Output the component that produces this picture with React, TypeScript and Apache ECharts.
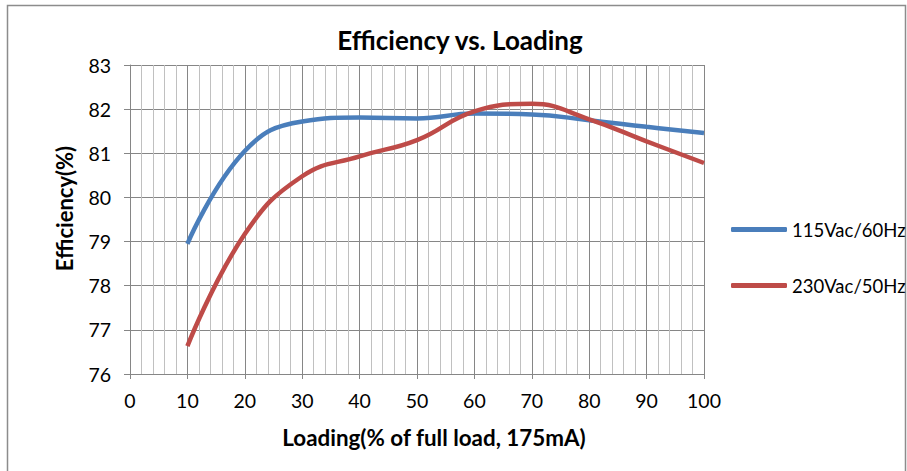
import React, { useEffect, useRef } from "react";
import * as echarts from "echarts";

const loading = [10, 20, 30, 40, 50, 60, 70, 80, 90, 100];
const eff115 = [78.95, 81.05, 81.72, 81.81, 81.79, 81.9, 81.88, 81.75, 81.6, 81.46];
const eff230 = [76.63, 79.17, 80.48, 80.93, 81.3, 81.95, 82.12, 81.77, 81.27, 80.78];
const seriesNames = ["115Vac/60Hz", "230Vac/50Hz"];
const colors = ["#4a7ebb", "#be4b48"];

const FONT = "Lato, 'Open Sans', sans-serif";

export default function App() {
  const ref = useRef<HTMLDivElement>(null);
  useEffect(() => {
    document.body.style.margin = "0";
    const chart = echarts.init(ref.current!, null, { renderer: "svg" });
    const toPairs = (ys: number[]) => loading.map((x, i) => [x, ys[i]]);
    chart.setOption({
      animation: false,
      backgroundColor: "#ffffff",
      textStyle: { fontFamily: FONT },
      title: {
        text: "Efficiency vs. Loading",
        left: 455,
        top: 22,
        textAlign: "center",
        textStyle: { fontFamily: FONT, fontSize: 26, fontWeight: "bold", color: "#000" },
      },
      graphic: [
        {
          type: "rect",
          shape: { x: 7.5, y: 5.5, width: 898, height: 480 },
          style: { fill: "none", stroke: "#8c8c8c", lineWidth: 1.5 },
          silent: true,
          z: -1,
        },
      ],
      legend: {
        orient: "vertical",
        left: 731,
        top: 220,
        padding: 0,
        itemGap: 37,
        icon: "roundRect",
        itemWidth: 56,
        itemHeight: 5,
        textStyle: { fontFamily: FONT, fontSize: 18.5, color: "#000" },
        data: seriesNames,
      },
      grid: { left: 130, right: 203, top: 65, bottom: 97, containLabel: false },
      xAxis: {
        type: "value",
        min: 0,
        max: 100,
        interval: 10,
        name: "Loading(% of full load, 175mA)",
        nameLocation: "middle",
        nameGap: 52,
        nameTextStyle: { fontFamily: FONT, fontSize: 22.4, fontWeight: "bold", color: "#000", padding: [0, 0, 0, 34] },
        axisLine: { show: true, lineStyle: { color: "#868686", width: 1 } },
        axisTick: { show: true, length: 5, lineStyle: { color: "#868686" } },
        axisLabel: { fontFamily: FONT, fontSize: 19.5, color: "#000", margin: 16 },
        splitLine: { show: true, lineStyle: { color: "#868686", width: 1 } },
        minorTick: { show: false, splitNumber: 5 },
        minorSplitLine: { show: true, lineStyle: { color: "#c0c0c0", width: 1 } },
      },
      yAxis: {
        type: "value",
        min: 76,
        max: 83,
        interval: 1,
        name: "Efficiency(%)",
        nameLocation: "middle",
        nameGap: 55,
        nameRotate: 90,
        nameTextStyle: { fontFamily: FONT, fontSize: 22, fontWeight: "bold", color: "#000", padding: [0, 0, 0, 22] },
        axisLine: { show: true, lineStyle: { color: "#868686", width: 1 } },
        axisTick: { show: true, inside: false, length: 6, lineStyle: { color: "#868686" } },
        axisLabel: { fontFamily: FONT, fontSize: 19.5, color: "#000", margin: 19 },
        splitLine: { show: true, lineStyle: { color: "#868686", width: 1 } },
      },
      series: [
        {
          name: seriesNames[0],
          type: "line",
          data: toPairs(eff115),
          smooth: 0.45,
          symbol: "none",
          lineStyle: { color: colors[0], width: 4.5 },
          itemStyle: { color: colors[0] },
        },
        {
          name: seriesNames[1],
          type: "line",
          data: toPairs(eff230),
          smooth: 0.45,
          symbol: "none",
          lineStyle: { color: colors[1], width: 4.5 },
          itemStyle: { color: colors[1] },
        },
      ],
    });
    return () => chart.dispose();
  }, []);
  return (
    <div
      ref={ref}
      style={{ width: 907, height: 471, position: "absolute", left: 0, top: 0 }}
    />
  );
}
